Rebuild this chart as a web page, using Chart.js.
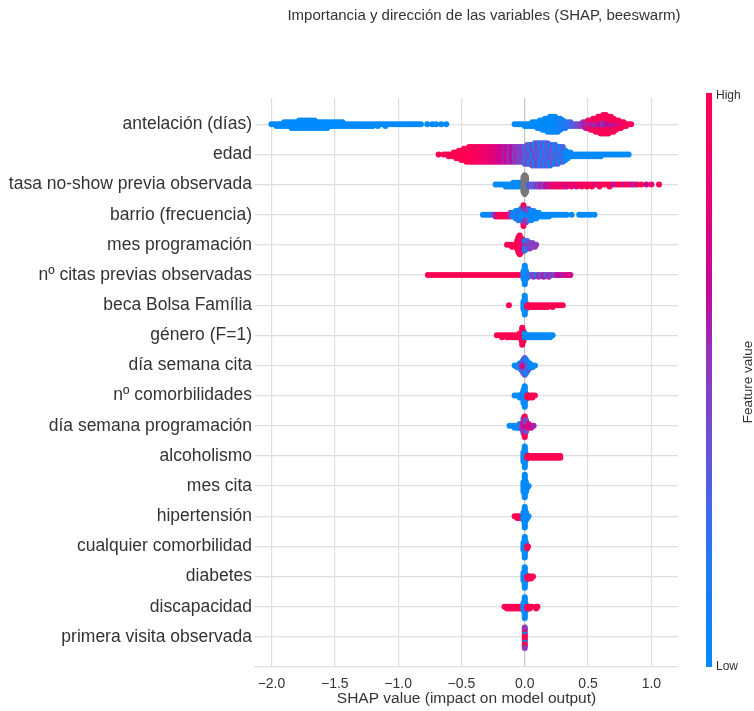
<!DOCTYPE html>
<html>
<head>
<meta charset="utf-8">
<script src="https://cdn.jsdelivr.net/npm/chart.js@4.4.1/dist/chart.umd.min.js"></script>
<style>
  body { margin: 0; background: #fff; }
  canvas { display: block; }
</style>
</head>
<body>
<canvas id="myChart" width="754" height="711"></canvas>
<script>
// variables, de arriba hacia abajo
var features = ['antelación (días)', 'edad', 'tasa no-show previa observada', 'barrio (frecuencia)',
  'mes programación', 'nº citas previas observadas', 'beca Bolsa Família', 'género (F=1)',
  'día semana cita', 'nº comorbilidades', 'día semana programación', 'alcoholismo', 'mes cita',
  'hipertensión', 'cualquier comorbilidad', 'diabetes', 'discapacidad', 'primera visita observada'];

var xTicks = [-2.0, -1.5, -1.0, -0.5, 0.0, 0.5, 1.0];

// cada fila: [valor SHAP, nº de puntos apilados, valor de la variable 0..1 (null = sin dato)]
var antelacion = [
  [-2.00,1,0],[-1.98,1,0],[-1.96,2,0],[-1.94,2,0],[-1.92,2,0],[-1.90,3,0],[-1.88,3,0],[-1.86,3,0],
  [-1.84,4,0],[-1.82,4,0],[-1.80,4,0],[-1.78,5,0],[-1.76,5,0],[-1.74,5,0],[-1.72,5,0],[-1.70,5,0],
  [-1.68,5,0],[-1.66,5,0],[-1.64,4,0],[-1.62,4,0],[-1.60,4,0],[-1.58,4,0],[-1.56,4,0],[-1.54,3,0],
  [-1.52,3,0],[-1.50,3,0],[-1.48,3,0],[-1.46,3,0],[-1.44,3,0],[-1.42,2,0],[-1.40,2,0],[-1.38,2,0],
  [-1.36,2,0],[-1.34,2,0],[-1.32,2,0],[-1.30,2,0],[-1.28,2,0],[-1.26,2,0],[-1.24,2,0],[-1.22,2,0],
  [-1.20,2,0],[-1.18,1,0],[-1.16,2,0],[-1.14,1,0],[-1.12,1,0],[-1.10,2,0],[-1.08,1,0],[-1.06,1,0],
  [-1.04,1,0],[-1.02,1,0],[-1.00,1,0],[-0.98,1,0],[-0.96,1,0],[-0.94,1,0],[-0.92,1,0],[-0.90,1,0],
  [-0.88,1,0],[-0.86,1,0],[-0.84,1,0],[-0.82,1,0],[-0.77,1,0],[-0.73,1,0],[-0.70,1,0],[-0.66,1,0],
  [-0.62,1,0],
  [-0.08,1,0],[-0.06,1,0],[-0.04,1,0],[-0.02,1,0],[0.00,2,0],[0.02,2,0],[0.04,2,0],[0.06,3,0],
  [0.08,3,0],[0.10,4,0],[0.12,5,0],[0.14,6,0],[0.16,7,0],[0.18,8,0],[0.20,9,0],[0.22,9,0],
  [0.24,9,0],[0.26,8,0.05],[0.28,7,0.1],[0.30,5,0.1],[0.32,4,0.15],[0.34,3,0.2],[0.36,3,0.25],
  [0.38,2,0.3],[0.40,2,0.35],[0.42,2,0.4],[0.44,2,0.5],[0.46,3,0.55],[0.48,4,0.6],
  [0.50,3,0.55],[0.50,2,0.9],[0.52,3,0.6],[0.52,3,0.95],[0.54,4,0.6],[0.54,3,0.9],[0.56,4,0.55],
  [0.56,4,1],[0.58,4,0.6],[0.58,5,0.95],[0.60,5,0.65],[0.60,5,1],[0.62,5,0.55],[0.62,6,1],
  [0.64,5,0.6],[0.64,6,0.95],[0.66,5,0.65],[0.66,5,1],[0.68,4,0.6],[0.68,5,0.95],[0.70,4,0.7],
  [0.70,4,1],[0.72,3,0.6],[0.72,3,0.95],[0.74,3,0.7],[0.74,2,1],[0.76,2,0.6],[0.76,2,0.95],
  [0.78,3,0.9],[0.80,2,0.95],[0.82,1,1],[0.84,1,0.9]
];
var edad = [
  [-0.68,1,1],[-0.64,1,1],[-0.62,1,1],[-0.60,2,1],[-0.58,2,1],[-0.56,3,1],[-0.54,4,1],[-0.52,5,1],
  [-0.50,6,1],[-0.48,7,1],[-0.46,8,1],[-0.44,9,1],[-0.42,9,0.95],[-0.40,9,1],[-0.38,9,0.95],
  [-0.36,9,0.9],[-0.34,9,0.95],[-0.32,9,0.85],[-0.30,9,0.9],[-0.28,9,0.8],[-0.26,9,0.85],
  [-0.24,9,0.75],[-0.22,9,0.8],[-0.20,9,0.7],[-0.18,9,0.75],[-0.16,9,0.6],[-0.14,9,0.7],
  [-0.12,9,0.55],[-0.10,9,0.65],[-0.08,9,0.5],[-0.06,9,0.55],[-0.04,9,0.45],[-0.02,9,0.5],
  [0.00,5,0.4],[0.00,5,0.25],[0.02,6,0.3],[0.02,5,0.45],[0.04,6,0.45],[0.04,5,0.1],[0.06,6,0.2],
  [0.06,6,0.45],[0.08,7,0.4],[0.08,6,0.1],[0.10,7,0.3],[0.10,6,0.5],[0.12,7,0.4],[0.12,6,0.05],
  [0.14,7,0.15],[0.14,6,0.4],[0.16,7,0.35],[0.16,6,0.1],[0.18,7,0.2],[0.18,6,0.4],[0.20,7,0.4],
  [0.20,5,0.05],[0.22,6,0.25],[0.22,5,0.4],[0.24,6,0.35],[0.24,5,0.1],[0.26,5,0.15],[0.26,5,0.35],
  [0.28,5,0.3],[0.28,4,0.05],[0.30,5,0.2],[0.30,4,0.3],[0.32,6,0.1],[0.34,4,0],[0.36,3,0],
  [0.38,2,0],[0.40,2,0],[0.42,2,0],[0.44,2,0],[0.46,2,0],[0.48,2,0],[0.50,2,0],[0.52,2,0],
  [0.54,2,0],[0.56,2,0],[0.58,2,0],[0.60,2,0],[0.62,1,0],[0.64,1,0],[0.66,1,0],[0.68,1,0],
  [0.70,1,0],[0.72,1,0],[0.74,1,0],[0.76,1,0],[0.78,1,0],[0.80,1,0],[0.82,1,0]
];
var tasaNoShow = [
  [-0.23,1,0],[-0.21,1,0],[-0.19,1,0],[-0.17,1,0],[-0.15,2,0],[-0.13,2,0],[-0.11,2,0],[-0.09,3,0],
  [-0.07,3,0],[-0.05,3,0],[-0.03,3,0],
  [-0.01,9,null],[0.00,11,null],[0.01,9,null],
  [0.03,2,0.3],[0.05,2,0.4],[0.07,2,0.25],[0.09,2,0.5],[0.11,2,0.45],[0.13,2,0.6],[0.15,2,0.5],
  [0.17,2,0.7],[0.19,2,0.6],[0.21,2,0.85],[0.23,2,0.9],[0.25,2,0.75],[0.27,2,0.95],[0.29,2,0.8],
  [0.31,2,0.9],[0.33,2,0.7],[0.35,1,0.95],[0.37,2,0.85],[0.39,1,1],[0.41,2,0.75],[0.43,1,0.95],
  [0.45,2,1],[0.47,1,0.8],[0.49,2,1],[0.51,1,0.9],[0.53,2,1],[0.55,1,0.95],[0.57,1,0.7],
  [0.59,2,1],[0.61,1,0.9],[0.63,1,1],[0.65,1,0.95],[0.67,2,1],[0.69,1,0.9],[0.71,1,0.6],
  [0.73,1,1],[0.75,1,0.95],[0.77,1,1],[0.79,1,0.65],[0.81,1,1],[0.83,1,0.95],[0.85,1,0.7],
  [0.87,1,0.6],[0.89,1,0.9],[0.92,1,1],[0.96,1,0.7],[1.00,1,0.9],[1.06,1,1]
];
var barrio = [
  [-0.33,1,0],[-0.31,1,0],[-0.29,1,0],[-0.27,1,0.1],[-0.25,1,0.3],[-0.23,2,0.6],[-0.21,2,0.95],
  [-0.19,2,1],[-0.17,2,1],[-0.15,2,0.85],[-0.13,2,1],[-0.11,3,0.5],[-0.09,3,0.1],[-0.07,5,0],
  [-0.05,6,0.2],[-0.03,7,0],[-0.01,6,0],[-0.01,4,0.5],[-0.01,2,1],[0.01,5,0],[0.01,3,0.55],
  [0.03,4,0],[0.03,3,0.4],[0.05,6,0],[0.07,5,0.1],[0.09,4,0],[0.11,3,0],[0.13,2,0],[0.15,2,0],
  [0.17,2,0],[0.19,2,0],[0.21,1,0],[0.23,1,0],[0.25,1,0],[0.27,1,0],[0.29,1,0],[0.31,1,0],
  [0.33,1,0],[0.37,1,0],[0.43,1,0],[0.45,1,0],[0.47,1,0],[0.50,1,0],[0.52,1,0],[0.55,1,0]
];
var mesProgramacion = [
  [-0.14,1,1],[-0.12,1,1],[-0.10,2,1],[-0.08,2,1],[-0.06,5,1],[-0.05,9,1],[-0.04,11,1],[-0.03,8,1],
  [-0.02,7,0.9],[-0.01,6,0.75],[0.00,3,0.5],[0.00,3,0.2],[0.02,3,0.55],[0.02,2,0.25],[0.04,4,0.5],
  [0.06,3,0.45],[0.08,2,0.55],[0.09,1,0.5]
];
var citasPrevias = [
  [-0.765,1,1],[-0.74,1,1],[-0.715,1,1],[-0.69,1,1],[-0.665,1,1],[-0.64,1,1],[-0.615,1,1],
  [-0.59,1,1],[-0.565,1,1],[-0.54,1,1],[-0.515,1,1],[-0.49,1,1],[-0.465,1,1],[-0.44,1,1],
  [-0.415,1,1],[-0.39,1,1],[-0.365,1,1],[-0.34,1,1],[-0.315,1,1],[-0.29,1,1],[-0.265,1,1],
  [-0.24,1,1],[-0.215,1,1],[-0.19,1,1],[-0.165,1,1],[-0.14,1,1],[-0.115,1,1],[-0.09,1,1],
  [-0.065,1,1],[-0.04,1,1],
  [-0.01,5,0],[0.00,11,0],[0.01,5,0],
  [0.03,2,0.2],[0.05,1,0.3],[0.07,2,0.5],[0.09,1,0.2],[0.11,2,0.55],[0.13,1,0.4],[0.15,2,0.6],
  [0.17,1,0.3],[0.19,2,0.55],[0.21,1,0.5],[0.23,1,0.4],[0.25,1,0.6],[0.27,1,0.65],[0.29,1,0.7],
  [0.31,1,0.6],[0.33,1,0.8],[0.35,1,0.7],[0.36,1,0.75]
];
var becaBolsa = [
  [-0.125,1,1],
  [-0.01,5,0],[0.00,11,0],[0.01,4,0],
  [0.02,2,1],[0.04,2,1],[0.06,2,1],[0.08,2,1],[0.10,2,1],[0.12,2,1],[0.14,2,1],[0.16,2,1],
  [0.18,2,1],[0.20,1,1],[0.22,2,1],[0.24,1,1],[0.26,1,1],[0.28,1,1],[0.30,1,1]
];
var genero = [
  [-0.22,1,1],[-0.20,1,1],[-0.18,2,1],[-0.16,1,1],[-0.14,2,1],[-0.12,2,1],[-0.10,2,1],[-0.08,2,1],
  [-0.06,2,1],[-0.04,3,1],[-0.03,4,1],[-0.02,10,1],[-0.01,6,1],
  [0.00,3,0],[0.02,2,0],[0.04,2,0],[0.06,2,0],[0.08,2,0],[0.10,2,0],[0.12,2,0],[0.14,2,0],
  [0.16,2,0],[0.18,2,0],[0.20,2,0],[0.22,1,0]
];
var diaSemanaCita = [
  [-0.08,1,0],[-0.06,2,0],[-0.04,3,0],[-0.03,4,0.3],[-0.02,3,0.6],[-0.02,3,0],[-0.01,4,0.9],
  [-0.01,4,0.4],[0.00,5,0.7],[0.00,5,0.3],[0.01,4,0.85],[0.01,4,0.2],[0.02,3,0.5],[0.02,3,0],
  [0.03,4,0.4],[0.04,3,0],[0.06,2,0],[0.08,1,0]
];
var comorbilidades = [
  [-0.08,1,0],[-0.06,1,0],[-0.04,2,0],[-0.02,3,0],[-0.01,8,0],[0.00,12,0],[0.01,4,0],
  [0.02,2,1],[0.04,2,1],[0.06,2,1],[0.08,1,1]
];
var diaSemanaProg = [
  [-0.12,1,0],[-0.10,1,0],[-0.08,2,0],[-0.06,2,0],[-0.04,3,0.2],[-0.02,4,0.4],[-0.01,5,0.9],
  [-0.01,4,0.3],[0.00,6,0.6],[0.00,6,1],[0.01,4,0.7],[0.01,3,0.4],[0.03,3,0.8],[0.05,2,0.7],
  [0.07,1,0.6]
];
var alcoholismo = [
  [-0.01,6,0],[0.00,12,0],[0.01,4,0],
  [0.02,2,1],[0.04,2,1],[0.06,2,1],[0.08,2,1],[0.10,2,1],[0.12,2,1],[0.14,2,1],[0.16,2,1],
  [0.18,2,1],[0.20,2,1],[0.22,2,1],[0.24,2,1],[0.26,2,1],[0.28,2,1]
];
var mesCita = [[-0.01,6,0],[0.00,13,0],[0.01,6,0],[0.02,2,0],[0.03,1,0]];
var hipertension = [
  [-0.08,1,1],[-0.06,2,1],[-0.04,2,1],[-0.02,2,1],
  [-0.01,5,0],[0.00,12,0],[0.01,5,0],[0.02,2,0],[0.03,1,0]
];
var cualquierComorb = [[-0.01,5,0],[0.00,12,0],[0.01,5,0],[0.02,2,1],[0.025,1,1]];
var diabetes = [
  [-0.01,5,0],[0.00,12,0],[0.01,4,0],[0.02,2,1],[0.035,2,1],[0.05,2,1],[0.065,1,1]
];
var discapacidad = [
  [-0.16,1,1],[-0.14,2,1],[-0.12,2,1],[-0.10,2,1],[-0.08,2,1],[-0.06,2,1],[-0.04,2,1],[-0.02,2,1],
  [-0.01,5,0],[0.00,12,0],[0.01,4,0],
  [0.02,2,1],[0.04,2,1],[0.055,1,1],[0.09,2,1],[0.10,1,1]
];
var primeraVisita = [[0.00,5,1],[0.00,2,0],[0.00,3,1],[0.00,2,0.5]];

var rows = [antelacion, edad, tasaNoShow, barrio, mesProgramacion, citasPrevias, becaBolsa, genero,
  diaSemanaCita, comorbilidades, diaSemanaProg, alcoholismo, mesCita, hipertension,
  cualquierComorb, diabetes, discapacidad, primeraVisita];

// mapa de color azul -> rojo (Low -> High)
var stops = [
  [0, [0,138,250]], [0.2, [40,118,240]], [0.4, [110,80,210]], [0.55, [150,50,180]],
  [0.65, [190,10,160]], [0.8, [230,0,120]], [1, [255,0,82]]
];
function cmap(t){
	if(t === null) return '#777777';
	for(var i=1; i<stops.length; i++){
		if(t <= stops[i][0]){
			var a = stops[i-1], b = stops[i];
			var f = (t - a[0]) / (b[0] - a[0]);
			var c = a[1].map(function(v, k){ return Math.round(v + (b[1][k]-v)*f); });
			return 'rgb('+c[0]+','+c[1]+','+c[2]+')';
		}
	}
	return 'rgb(255,0,82)';
}

// apilar los puntos de cada fila (enjambre simple)
var STEP = 0.062;
var points = [], colors = [];
rows.forEach(function(list, row){
	var layers = {};
	list.forEach(function(e){
		var key = e[0].toFixed(3);
		for(var j=0; j<e[1]; j++){
			var k = layers[key] = (layers[key] === undefined ? 0 : layers[key] + 1);
			var off = Math.ceil(k/2) * (k % 2 ? 1 : -1) * STEP;
			points.push({x: e[0], y: row + off});
			colors.push(cmap(e[2]));
		}
	});
});

var FONT = "'Liberation Sans', Arial, sans-serif";
Chart.defaults.font.family = FONT;
Chart.defaults.color = '#333333';

function fmt(v){
	var s = Math.abs(v).toFixed(1);
	return v < 0 ? '\u2212' + s : s;
}

// titulo y barra de color
var decor = {
	id: 'decor',
	afterDraw: function(chart){
		var c = chart.ctx;
		c.save();
		c.fillStyle = '#333333';
		c.font = '15px ' + FONT;
		c.textAlign = 'center';
		c.textBaseline = 'middle';
		c.fillText('Importancia y dirección de las variables (SHAP, beeswarm)', 484, 16);

		var top = 93, bottom = 667;
		var g = c.createLinearGradient(0, bottom, 0, top);
		stops.forEach(function(s){ g.addColorStop(s[0], 'rgb('+s[1].join(',')+')'); });
		c.fillStyle = g;
		c.fillRect(706, top, 6, bottom - top);

		c.fillStyle = '#333333';
		c.font = '12px ' + FONT;
		c.textAlign = 'left';
		c.fillText('High', 716, top + 3);
		c.fillText('Low', 716, bottom);

		c.translate(748, 382);
		c.rotate(-Math.PI/2);
		c.textAlign = 'center';
		c.font = '13.5px ' + FONT;
		c.fillText('Feature value', 0, 0);
		c.restore();
	}
};

document.addEventListener("DOMContentLoaded", function(){
	new Chart('myChart', {
		type: 'scatter',
		data: {
			datasets: [{
				data: points,
				backgroundColor: colors,
				pointRadius: 3,
				pointHoverRadius: 3,
				borderWidth: 0
			}]
		},
		options: {
			responsive: false,
			animation: false,
			layout: { padding: { top: 98, right: 76, left: 0, bottom: 0 } },
			plugins: { legend: { display: false }, tooltip: { enabled: false } },
			scales: {
				x: {
					type: 'linear', min: -2.13, max: 1.21,
					afterBuildTicks: function(s){ s.ticks = xTicks.map(function(v){ return {value: v}; }); },
					afterFit: function(s){ s.height = 44; },
					ticks: { callback: function(v){ return fmt(v); }, font: { size: 14 }, padding: 9, color: '#333' },
					grid: {
						drawTicks: false, lineWidth: 1.2,
						color: function(ctx){ return ctx.tick && ctx.tick.value === 0 ? '#c4c4c4' : '#dedede'; }
					},
					border: { color: '#dedede', width: 1.2 },
					title: { display: true, text: 'SHAP value (impact on model output)', font: { size: 15.5 }, color: '#333', padding: { top: 0, bottom: 3 } }
				},
				y: {
					type: 'linear', reverse: true, min: -0.87, max: 18,
					afterBuildTicks: function(s){ s.ticks = features.map(function(f, i){ return {value: i}; }); },
					afterFit: function(s){ s.width = 255; },
					ticks: { callback: function(v){ return features[v]; }, font: { size: 17.5 }, padding: 3, color: '#333' },
					grid: { drawTicks: false, color: '#dedede', lineWidth: 1.2 },
					border: { display: false }
				}
			}
		},
		plugins: [decor]
	});
});
</script>
</body>
</html>
